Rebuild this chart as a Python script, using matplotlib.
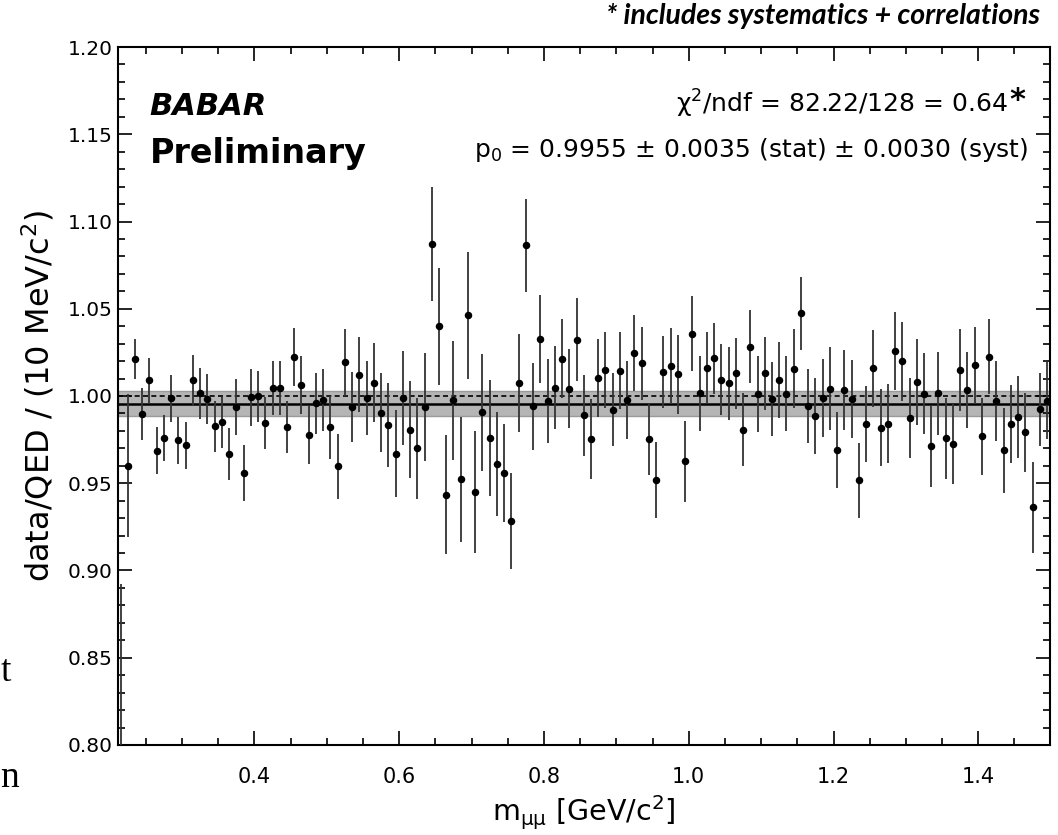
import numpy as np
import matplotlib
matplotlib.use("Agg")
import matplotlib.pyplot as plt
from matplotlib.ticker import MultipleLocator

# 10 MeV bins from 0.21 to 1.50 GeV/c^2 (bin centres)
bin_width = 0.01
mass = np.round(0.215 + bin_width * np.arange(129), 3)

ratio = [
    0.775, 0.960, 1.021, 0.9895, 1.009, 0.9686, 0.976, 0.9987, 0.9745, 0.9718,
    1.009, 1.0017, 0.9983, 0.9826, 0.985, 0.9667, 0.9937, 0.9557, 0.9992, 0.9998,
    0.9847, 1.0044, 1.0048, 0.9824, 1.0222, 1.0063, 0.9774, 0.9958, 0.9977, 0.982,
    0.9598, 1.0192, 0.9937, 1.0121, 0.9989, 1.0077, 0.9904, 0.9835, 0.967, 0.9989,
    0.9808, 0.9701, 0.9939, 1.0871, 1.0399, 0.9435, 0.9975, 0.9522, 1.0462, 0.945,
    0.9906, 0.9759, 0.961, 0.9559, 0.9282, 1.0073, 1.0863, 0.9941, 1.0327, 0.9971,
    1.0048, 1.0214, 1.0042, 1.0323, 0.9889, 0.9755, 1.0103, 1.0151, 0.9921, 1.0146,
    0.9977, 1.0247, 1.0188, 0.9755, 0.9517, 1.0136, 1.0172, 1.0125, 0.9625, 1.0358,
    1.0015, 1.0163, 1.0215, 1.0094, 1.0073, 1.013, 0.9807, 1.0282, 1.0011, 1.013,
    0.9983, 1.0092, 1.0013, 1.0157, 1.0473, 0.9944, 0.9885, 0.9987, 1.0042, 0.969,
    1.0034, 0.9985, 0.9517, 0.9841, 1.0159, 0.9818, 0.9841, 1.0259, 1.0199, 0.9874,
    1.0079, 1.0013, 0.9711, 1.0015, 0.9759, 0.9726, 1.0149, 1.0033, 1.0176, 0.977,
    1.0226, 0.9973, 0.969, 0.9839, 0.9881, 0.9791, 0.9362, 0.9923, 0.9973,
]

ratio_err = [
    0.117, 0.041, 0.0115, 0.015, 0.013, 0.0134, 0.0133, 0.0134, 0.0133, 0.0135,
    0.0147, 0.0146, 0.0144, 0.0145, 0.0147, 0.0148, 0.016, 0.016, 0.0163, 0.0147,
    0.015, 0.0155, 0.0155, 0.015, 0.0166, 0.0168, 0.0166, 0.0173, 0.018, 0.018,
    0.0186, 0.0194, 0.020, 0.0215, 0.0214, 0.0226, 0.0226, 0.024, 0.025, 0.0267,
    0.028, 0.029, 0.031, 0.0326, 0.0336, 0.034, 0.0343, 0.036, 0.0365, 0.0348,
    0.0335, 0.033, 0.030, 0.028, 0.0275, 0.028, 0.0268, 0.025, 0.025, 0.024,
    0.0238, 0.0225, 0.0225, 0.0237, 0.023, 0.023, 0.0222, 0.0218, 0.021, 0.022,
    0.0225, 0.0217, 0.021, 0.0206, 0.0218, 0.0206, 0.0217, 0.0226, 0.0233, 0.0213,
    0.0215, 0.0204, 0.0206, 0.0205, 0.021, 0.0205, 0.021, 0.021, 0.0216, 0.0208,
    0.0212, 0.022, 0.0215, 0.0225, 0.021, 0.0213, 0.0218, 0.0224, 0.0236, 0.022,
    0.0227, 0.0223, 0.0215, 0.0217, 0.022, 0.022, 0.0226, 0.0223, 0.0227, 0.0232,
    0.0247, 0.0232, 0.023, 0.024, 0.0232, 0.023, 0.0237, 0.0217, 0.022, 0.022,
    0.0216, 0.023, 0.0244, 0.0224, 0.0234, 0.0227, 0.0259, 0.021, 0.022,
]

# fit result
p0 = 0.9955
p0_band = 0.0072

fig = plt.figure(figsize=(10.58, 8.35), dpi=100)
ax = fig.add_axes([0.1115, 0.1078, 0.8809, 0.8359])

ax.axhspan(p0 - p0_band, p0 + p0_band, facecolor="#b5b5b5", edgecolor="#9a9a9a",
           linewidth=1.0, zorder=1)
ax.axhline(p0, color="black", linewidth=1.8, zorder=2)
ax.axhline(1.0, color="black", linewidth=1.2, linestyle=(0, (3, 2)), zorder=2)

ax.errorbar(mass, ratio, yerr=ratio_err, fmt="o", color="black", ecolor="#333333",
            markersize=4.4, elinewidth=1.3, capsize=0, zorder=3)

ax.set_xlim(0.2115, 1.499)
ax.set_ylim(0.80, 1.20)
ax.xaxis.set_major_locator(MultipleLocator(0.2))
ax.xaxis.set_minor_locator(MultipleLocator(0.05))
ax.yaxis.set_major_locator(MultipleLocator(0.05))
ax.yaxis.set_minor_locator(MultipleLocator(0.01))
ax.xaxis.set_major_formatter(plt.FormatStrFormatter("%.1f"))
ax.yaxis.set_major_formatter(plt.FormatStrFormatter("%.2f"))

ax.tick_params(which="both", direction="in", top=True, right=True, width=1.2)
ax.tick_params(which="major", length=10)
ax.tick_params(which="minor", length=5)
ax.tick_params(axis="x", which="major", pad=16, labelsize=15)
ax.tick_params(axis="y", which="major", pad=4, labelsize=14.5)
for s in ax.spines.values():
    s.set_linewidth(1.5)

ax.set_xlabel(r"m$_{\mathrm{μμ}}$ [GeV/c$^2$]", fontsize=20.5)
ax.xaxis.set_label_coords(0.5, -0.069)
ax.set_ylabel(r"data/QED / (10 MeV/c$^2$)", fontsize=23, labelpad=8)

ax.text(0.034, 0.915, "BABAR", transform=ax.transAxes, fontsize=22,
        fontweight="bold", fontstyle="italic", va="center")
ax.text(0.034, 0.848, "Preliminary", transform=ax.transAxes, fontsize=24,
        fontweight="bold", va="center")
ax.text(0.9545, 0.918, "χ$^2$/ndf = 82.22/128 = 0.64", transform=ax.transAxes,
        fontsize=18, ha="right", va="center")
ax.text(0.956, 0.924, "*", transform=ax.transAxes, fontsize=22, fontweight="bold",
        ha="left", va="center")
ax.text(0.977, 0.852, "p$_0$ = 0.9955 ± 0.0035 (stat) ± 0.0030 (syst)",
        transform=ax.transAxes, fontsize=18, ha="right", va="center")

fig.text(0.983, 0.981, "* includes systematics + correlations", fontsize=20.5,
         fontweight="bold", fontstyle="italic", ha="right", va="center",
         family="Lato")

# stray letters from the slide behind the figure
fig.text(0.001, 0.195, "t", fontsize=27, family="Liberation Serif", va="center")
fig.text(0.0, 0.068, "n", fontsize=27, family="Liberation Serif", va="center")

fig.savefig("out.png", dpi=100)
